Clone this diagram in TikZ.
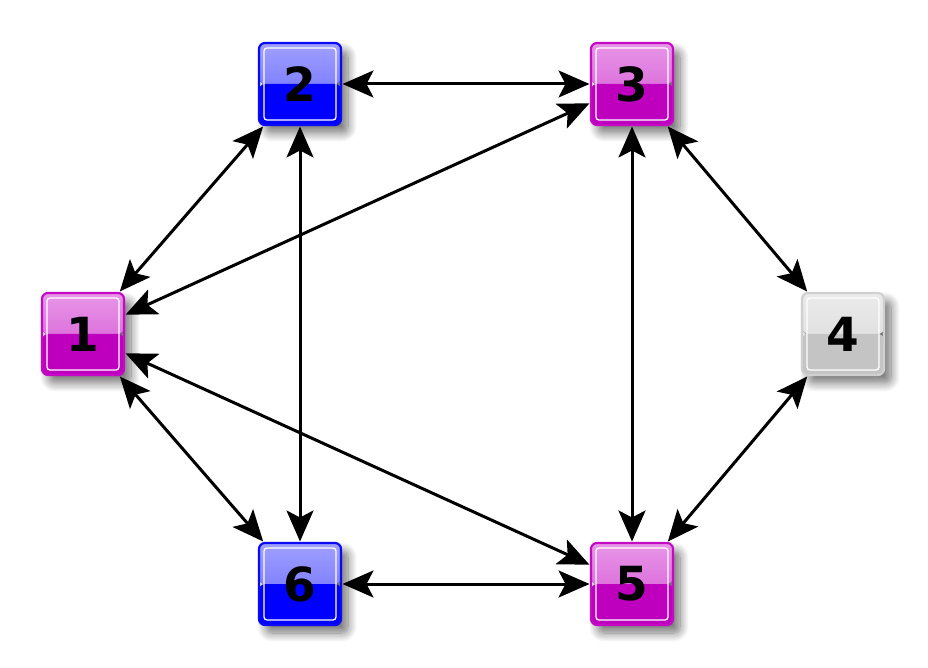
\documentclass[tikz,border=0pt]{standalone}
\usepackage{fontspec}
\setmainfont{DejaVu Sans}
\usetikzlibrary{arrows.meta,shadows.blur}
\definecolor{magtop}{RGB}{232,150,232}
\definecolor{magmid}{RGB}{210,80,210}
\definecolor{magbot}{RGB}{190,0,190}
\definecolor{magedge}{RGB}{196,10,196}
\definecolor{blutop}{RGB}{160,160,255}
\definecolor{blumid}{RGB}{100,100,255}
\definecolor{blubot}{RGB}{0,0,255}
\definecolor{bluedge}{RGB}{10,10,245}
\definecolor{grytop}{RGB}{235,235,235}
\definecolor{grymid}{RGB}{215,215,215}
\definecolor{grybot}{RGB}{196,196,196}
\definecolor{gryedge}{RGB}{208,208,208}
\tikzset{
  x=1pt,y=1pt,
  gbox/.style n args={4}{
    minimum width=82, minimum height=82, inner sep=0, outer sep=1.5,
    rounded corners=6, draw=#4, line width=2.2,
    font=\fontsize{47}{47}\selectfont\bfseries,
    blur shadow={shadow xshift=7pt, shadow yshift=-8pt, shadow blur steps=12, shadow blur radius=9pt, shadow opacity=55},
    path picture={
      \fill[top color=#1, bottom color=#2]
        (path picture bounding box.north west) rectangle (path picture bounding box.east);
      \fill[#3]
        (path picture bounding box.west) rectangle (path picture bounding box.south east);
      \draw[white, line width=1.3, rounded corners=3]
        ([shift={(5,-5)}]path picture bounding box.north west) rectangle
        ([shift={(-5,5)}]path picture bounding box.south east);
    }},
  mag/.style={gbox={magtop}{magmid}{magbot}{magedge}},
  blu/.style={gbox={blutop}{blumid}{blubot}{bluedge}},
  gry/.style={gbox={grytop}{grymid}{grybot}{gryedge}},
  link/.style={line width=3, {Stealth[length=31, width=27, inset=7]}-{Stealth[length=31, width=27, inset=7]}}
}
\begin{document}
\begin{tikzpicture}
\useasboundingbox (0,0) rectangle (928,667);
\node[mag] (n1) at (83,333) {1};
\node[blu] (n2) at (300,583) {2};
\node[mag] (n3) at (632,583) {3};
\node[gry] (n4) at (843,333) {4};
\node[mag] (n5) at (632,83) {5};
\node[blu] (n6) at (300,83) {6};
\draw[link] (n1) -- (n2);
\draw[link] (n2) -- (n3);
\draw[link] (n1) -- (n3);
\draw[link] (n3) -- (n4);
\draw[link] (n4) -- (n5);
\draw[link] (n5) -- (n6);
\draw[link] (n6) -- (n1);
\draw[link] (n1) -- (n5);
\draw[link] (n2) -- (n6);
\draw[link] (n3) -- (n5);
\end{tikzpicture}
\end{document}
